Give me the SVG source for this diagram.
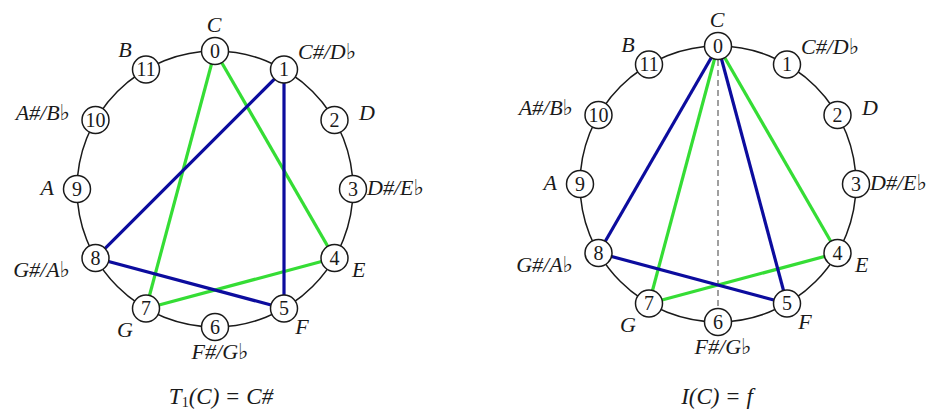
<svg xmlns="http://www.w3.org/2000/svg" width="929" height="412" viewBox="0 0 929 412">
<style>
.ring{fill:none;stroke:#1a1a1a;stroke-width:1.5}
.node circle{fill:#fff;stroke:#1a1a1a;stroke-width:1.5}
.node text{font-family:"Liberation Serif","DejaVu Serif",serif;font-size:20px;text-anchor:middle;fill:#1a1a1a}
.lbl{font-family:"Liberation Serif","DejaVu Serif",serif;font-style:italic;font-size:22px;fill:#1a1a1a}
.mid{text-anchor:middle}
.end{text-anchor:end}
.g{stroke:#35dd35;stroke-width:3.2;fill:none}
.b{stroke:#0c0c9e;stroke-width:3.2;fill:none}
.d{stroke:#888;stroke-width:1.6;stroke-dasharray:6 4;fill:none}
.cap{font-family:"Liberation Serif","DejaVu Serif",serif;font-size:23px;fill:#1a1a1a;text-anchor:middle}
</style>
<rect width="929" height="412" fill="#fff"/>
<g id="rings">
<circle class="ring" cx="215" cy="189" r="138"/>
<circle class="ring" cx="718" cy="184" r="138"/>
</g>
<g id="connectors">
<line class="d" x1="718" y1="60" x2="718" y2="308"/>
<line class="g" x1="215" y1="51" x2="146" y2="308.5"/>
<line class="g" x1="215" y1="51" x2="334.5" y2="258"/>
<line class="g" x1="334.5" y1="258" x2="146" y2="308.5"/>
<line class="b" x1="284" y1="69.5" x2="95.5" y2="258"/>
<line class="b" x1="284" y1="69.5" x2="284" y2="308.5"/>
<line class="b" x1="95.5" y1="258" x2="284" y2="308.5"/>
<line class="g" x1="718" y1="46" x2="649" y2="303.5"/>
<line class="g" x1="718" y1="46" x2="837.5" y2="253"/>
<line class="g" x1="837.5" y1="253" x2="649" y2="303.5"/>
<line class="b" x1="718" y1="46" x2="598.5" y2="253"/>
<line class="b" x1="718" y1="46" x2="787" y2="303.5"/>
<line class="b" x1="598.5" y1="253" x2="787" y2="303.5"/>
</g>
<g id="L0" class="node"><circle cx="215" cy="51" r="13.5"/><text x="215" y="57.5">0</text></g>
<g id="L1" class="node"><circle cx="284" cy="69.5" r="13.5"/><text x="284" y="76">1</text></g>
<g id="L2" class="node"><circle cx="334.5" cy="120" r="13.5"/><text x="334.5" y="126.5">2</text></g>
<g id="L3" class="node"><circle cx="353" cy="189" r="13.5"/><text x="353" y="195.5">3</text></g>
<g id="L4" class="node"><circle cx="334.5" cy="258" r="13.5"/><text x="334.5" y="264.5">4</text></g>
<g id="L5" class="node"><circle cx="284" cy="308.5" r="13.5"/><text x="284" y="315">5</text></g>
<g id="L6" class="node"><circle cx="215" cy="327" r="13.5"/><text x="215" y="333.5">6</text></g>
<g id="L7" class="node"><circle cx="146" cy="308.5" r="13.5"/><text x="146" y="315">7</text></g>
<g id="L8" class="node"><circle cx="95.5" cy="258" r="13.5"/><text x="95.5" y="264.5">8</text></g>
<g id="L9" class="node"><circle cx="77" cy="189" r="13.5"/><text x="77" y="195.5">9</text></g>
<g id="L10" class="node"><circle cx="95.5" cy="120" r="13.5"/><text x="95.5" y="126.5" textLength="20" lengthAdjust="spacingAndGlyphs">10</text></g>
<g id="L11" class="node"><circle cx="146" cy="69.5" r="13.5"/><text x="146" y="76" textLength="19" lengthAdjust="spacingAndGlyphs">11</text></g>
<g id="R0" class="node"><circle cx="718" cy="46" r="13.5"/><text x="718" y="52.5">0</text></g>
<g id="R1" class="node"><circle cx="787" cy="64.5" r="13.5"/><text x="787" y="71">1</text></g>
<g id="R2" class="node"><circle cx="837.5" cy="115" r="13.5"/><text x="837.5" y="121.5">2</text></g>
<g id="R3" class="node"><circle cx="856" cy="184" r="13.5"/><text x="856" y="190.5">3</text></g>
<g id="R4" class="node"><circle cx="837.5" cy="253" r="13.5"/><text x="837.5" y="259.5">4</text></g>
<g id="R5" class="node"><circle cx="787" cy="303.5" r="13.5"/><text x="787" y="310">5</text></g>
<g id="R6" class="node"><circle cx="718" cy="322" r="13.5"/><text x="718" y="328.5">6</text></g>
<g id="R7" class="node"><circle cx="649" cy="303.5" r="13.5"/><text x="649" y="310">7</text></g>
<g id="R8" class="node"><circle cx="598.5" cy="253" r="13.5"/><text x="598.5" y="259.5">8</text></g>
<g id="R9" class="node"><circle cx="580" cy="184" r="13.5"/><text x="580" y="190.5">9</text></g>
<g id="R10" class="node"><circle cx="598.5" cy="115" r="13.5"/><text x="598.5" y="121.5" textLength="20" lengthAdjust="spacingAndGlyphs">10</text></g>
<g id="R11" class="node"><circle cx="649" cy="64.5" r="13.5"/><text x="649" y="71" textLength="19" lengthAdjust="spacingAndGlyphs">11</text></g>
<g id="labels-left">
<text class="lbl mid" x="214" y="32">C</text>
<text class="lbl mid" x="125" y="57">B</text>
<text class="lbl" x="298" y="59">C#/D♭</text>
<text class="lbl end" x="70" y="120">A#/B♭</text>
<text class="lbl" x="359" y="120">D</text>
<text class="lbl end" x="54" y="195">A</text>
<text class="lbl" x="367" y="195">D#/E♭</text>
<text class="lbl end" x="70" y="277">G#/A♭</text>
<text class="lbl" x="352" y="277">E</text>
<text class="lbl mid" x="125" y="337">G</text>
<text class="lbl mid" x="302" y="334">F</text>
<text class="lbl mid" x="220" y="359">F#/G♭</text>
<text class="cap" x="221" y="404"><tspan font-style="italic">T</tspan><tspan font-size="14" dy="3">1</tspan><tspan dy="-3" font-style="italic">(C)</tspan><tspan dx="7">=</tspan><tspan dx="7" font-style="italic">C#</tspan></text>
</g>
<g id="labels-right">
<text class="lbl mid" x="717" y="27">C</text>
<text class="lbl mid" x="628" y="52">B</text>
<text class="lbl" x="801" y="54">C#/D♭</text>
<text class="lbl end" x="573" y="115">A#/B♭</text>
<text class="lbl" x="862" y="115">D</text>
<text class="lbl end" x="557" y="190">A</text>
<text class="lbl" x="870" y="190">D#/E♭</text>
<text class="lbl end" x="573" y="272">G#/A♭</text>
<text class="lbl" x="855" y="272">E</text>
<text class="lbl mid" x="628" y="332">G</text>
<text class="lbl mid" x="805" y="329">F</text>
<text class="lbl mid" x="723" y="354">F#/G♭</text>
<text class="cap" x="717" y="404"><tspan font-style="italic">I(C)</tspan><tspan dx="7">=</tspan><tspan dx="7" font-style="italic">f</tspan></text>
</g>
</svg>
